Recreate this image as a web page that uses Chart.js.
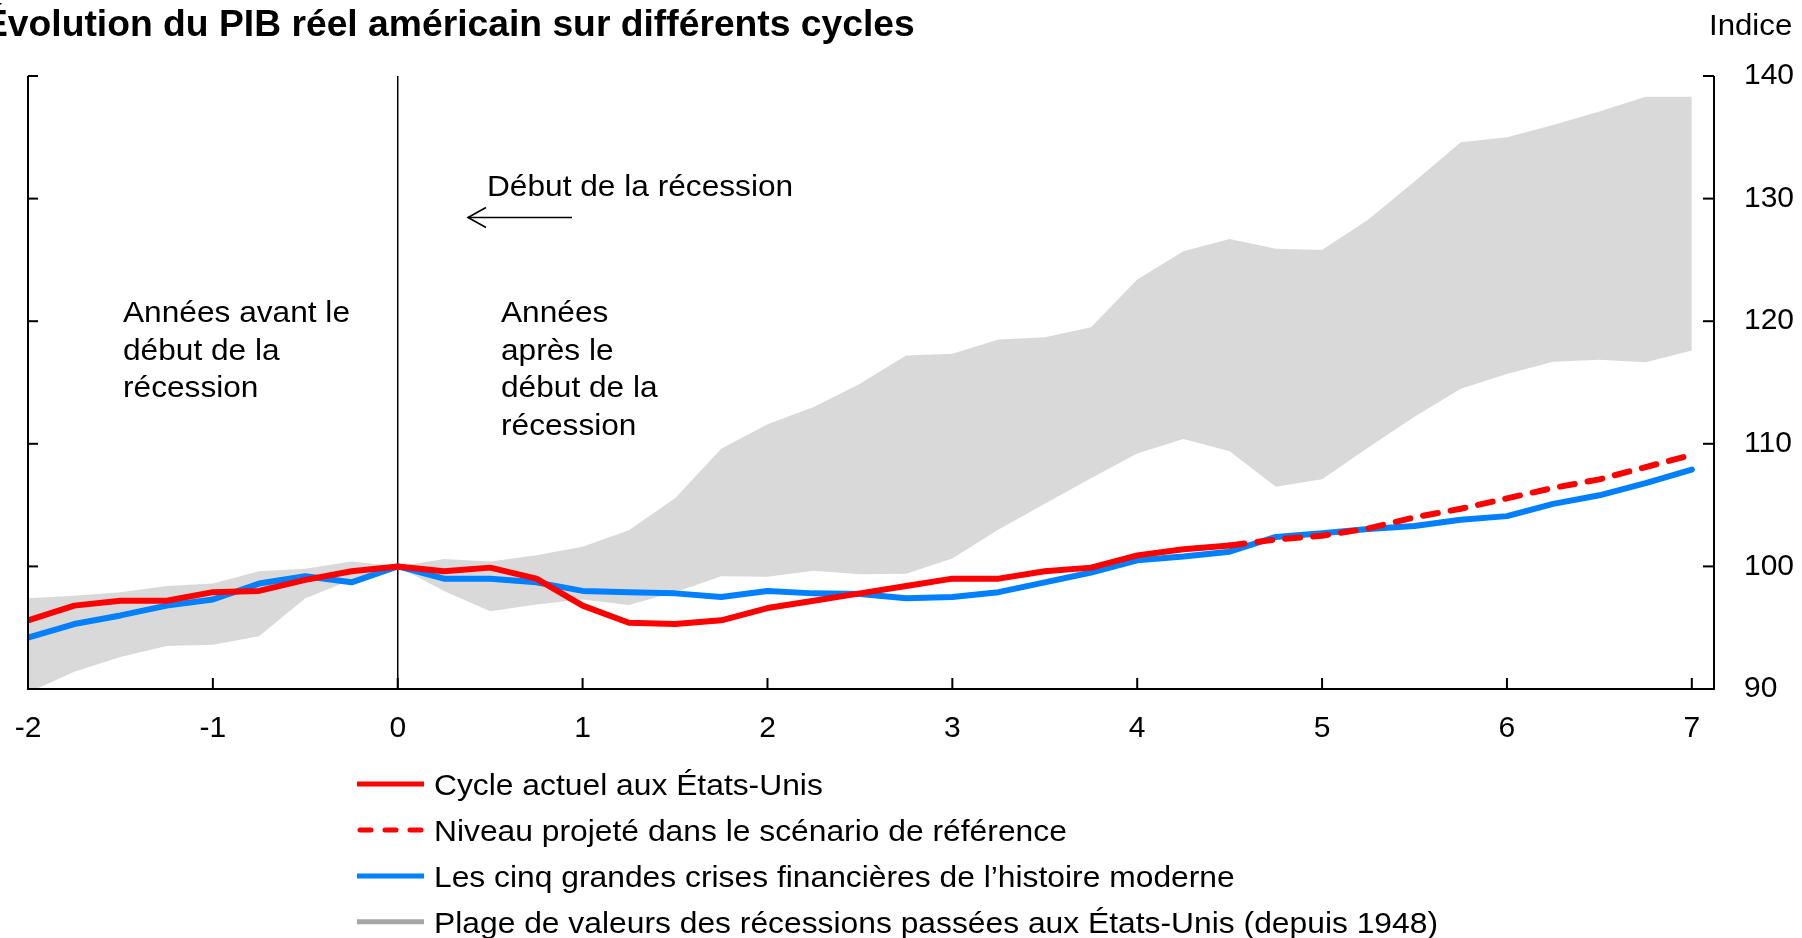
<!DOCTYPE html>
<html>
<head>
<meta charset="utf-8">
<title>Évolution du PIB réel américain sur différents cycles</title>
<script src="https://cdn.jsdelivr.net/npm/chart.js@4.4.1/dist/chart.umd.min.js"></script>
<style>
html, body { margin: 0; padding: 0; background: #fff; }
#wrap { width: 1802px; height: 938px; }
</style>
</head>
<body>
<div id="wrap"><canvas id="gdp" width="1802" height="938"></canvas></div>
<script>
// Années depuis le début de la récession (trimestres)
var quarters = [-2, -1.75, -1.5, -1.25, -1, -0.75, -0.5, -0.25, 0, 0.25, 0.5, 0.75,
	1, 1.25, 1.5, 1.75, 2, 2.25, 2.5, 2.75, 3, 3.25, 3.5, 3.75,
	4, 4.25, 4.5, 4.75, 5, 5.25, 5.5, 5.75, 6, 6.25, 6.5, 6.75, 7];
var xTicks = [-2, -1, 0, 1, 2, 3, 4, 5, 6, 7];
var yTicks = [90, 100, 110, 120, 130, 140];

// Cycle actuel aux États-Unis (jusqu'à 4,5 ans)
var currentCycle = [95.6, 96.8, 97.2, 97.2, 97.9, 98.0, 98.9, 99.6, 100, 99.6, 99.9, 99.0,
	96.8, 95.4, 95.3, 95.6, 96.6, 97.2, 97.8, 98.4, 99.0, 99.0, 99.6, 99.9,
	100.9, 101.4, 101.7];
// Niveau projeté (de 4,5 à 7 ans)
var projQuarters = [4.5, 4.75, 5, 5.25, 5.5, 5.75, 6, 6.25, 6.5, 6.75, 7];
var projected = [101.7, 102.2, 102.5, 103.1, 104.0, 104.7, 105.55, 106.4, 107.1, 108.1, 109.1];
// Les cinq grandes crises financières
var fiveCrises = [94.2, 95.3, 96.0, 96.8, 97.3, 98.6, 99.2, 98.7, 100, 99.0, 99.0, 98.7,
	98.0, 97.9, 97.8, 97.5, 98.0, 97.8, 97.75, 97.4, 97.5, 97.9, 98.7, 99.5,
	100.5, 100.8, 101.2, 102.4, 102.7, 103.05, 103.3, 103.8, 104.1, 105.1, 105.8, 106.8, 107.9];
// Plage des récessions passées (haut / bas)
var rangeHigh = [97.4, 97.6, 97.9, 98.4, 98.6, 99.6, 99.8, 100.4, 100, 100.6, 100.4, 100.9,
	101.6, 102.95, 105.55, 109.6, 111.6, 113.0, 114.9, 117.2, 117.35, 118.5, 118.7, 119.5,
	123.4, 125.7, 126.7, 125.9, 125.8, 128.3, 131.4, 134.6, 135.0, 136.0, 137.1, 138.3, 138.3];
var rangeLow = [89.7, 91.4, 92.6, 93.5, 93.6, 94.3, 97.4, 98.9, 100, 98.0, 96.35, 96.9,
	97.3, 96.85, 97.9, 99.2, 99.15, 99.65, 99.35, 99.4, 100.65, 103.0, 105.1, 107.2,
	109.2, 110.4, 109.4, 106.5, 107.1, 109.7, 112.2, 114.5, 115.7, 116.7, 116.85, 116.65, 117.6];

var legendLabels = [
	'Cycle actuel aux États-Unis',
	'Niveau projeté dans le scénario de référence',
	'Les cinq grandes crises financières de l\u2019histoire moderne',
	'Plage de valeurs des récessions passées aux États-Unis (depuis 1948)'
];

var RED = '#ff0000', BLUE = '#0080ff', BAND = '#d9d9d9', BAND_KEY = '#a6a6a6';
var FONT = '"Liberation Sans", Arial, Helvetica, sans-serif';

function toPoints(xs, ys) {
	return ys.map(function (v, i) { return { x: xs[i], y: v }; });
}

function drawText(ctx, str, x, y, size, bold, sx) {
	ctx.save();
	ctx.font = (bold ? 'bold ' : '') + size + 'px ' + FONT;
	ctx.fillStyle = '#000';
	ctx.textBaseline = 'alphabetic';
	ctx.textAlign = 'left';
	ctx.translate(x, y);
	ctx.scale(sx, 1);
	ctx.fillText(str, 0, 0);
	ctx.restore();
}

function line(ctx, x1, y1, x2, y2) {
	ctx.beginPath();
	ctx.moveTo(x1, y1);
	ctx.lineTo(x2, y2);
	ctx.stroke();
}

var decor = {
	id: 'decor',
	beforeDatasetsDraw: function (chart) {
		var ctx = chart.ctx, a = chart.chartArea;
		var x0 = chart.scales.x.getPixelForValue(0);
		ctx.save();
		ctx.strokeStyle = '#000';
		ctx.lineWidth = 1.5;
		line(ctx, x0, a.top, x0, a.bottom);
		ctx.restore();
	},
	afterDatasetsDraw: function (chart) {
		var ctx = chart.ctx, a = chart.chartArea;
		var xs = chart.scales.x, ys = chart.scales.y;
		ctx.save();
		ctx.strokeStyle = '#000';
		ctx.lineWidth = 2;
		line(ctx, a.left, a.bottom, a.right + 1, a.bottom);
		line(ctx, a.right, a.top, a.right, a.bottom + 1);
		line(ctx, a.left, a.top, a.left, a.bottom + 1);
		xTicks.forEach(function (v) {
			var px = xs.getPixelForValue(v);
			line(ctx, px, a.bottom, px, a.bottom - 11);
		});
		yTicks.forEach(function (v) {
			var py = ys.getPixelForValue(v);
			line(ctx, a.right - 11, py, a.right, py);
			line(ctx, a.left, py, a.left + 10, py);
		});
		ctx.restore();
	},
	afterDraw: function (chart) {
		var ctx = chart.ctx;
		var S = 1.06;
		drawText(ctx, 'Évolution du PIB réel américain sur différents cycles', -17, 36, 36, true, 1.035);
		drawText(ctx, 'Indice', 1709, 35, 30, false, 1.04);

		drawText(ctx, 'Début de la récession', 487, 196, 30, false, 1.055);
		ctx.save();
		ctx.strokeStyle = '#000';
		ctx.lineWidth = 1.6;
		line(ctx, 572, 217.5, 468, 217.5);
		ctx.beginPath();
		ctx.moveTo(486, 207.5);
		ctx.lineTo(468, 217.5);
		ctx.lineTo(486, 227.5);
		ctx.stroke();
		ctx.restore();

		['Années avant le', 'début de la', 'récession'].forEach(function (s, i) {
			drawText(ctx, s, 123, 321.7 + i * 37.8, 30, false, 1.055);
		});
		['Années', 'après le', 'début de la', 'récession'].forEach(function (s, i) {
			drawText(ctx, s, 501, 321.7 + i * 37.8, 30, false, 1.055);
		});

		// Légende
		var keys = [
			{ color: RED, dash: [] },
			{ color: RED, dash: [11, 14] },
			{ color: BLUE, dash: [] },
			{ color: BAND_KEY, dash: [] }
		];
		var rowY = [784, 830, 876, 921.7];
		keys.forEach(function (k, i) {
			ctx.save();
			ctx.strokeStyle = k.color;
			ctx.lineWidth = 5;
			ctx.lineCap = k.dash.length ? 'round' : 'butt';
			ctx.setLineDash(k.dash);
			if (k.dash.length) {
				line(ctx, 360, rowY[i], 424, rowY[i]);
			} else {
				line(ctx, 357, rowY[i], 424, rowY[i]);
			}
			ctx.restore();
			drawText(ctx, legendLabels[i], 434, rowY[i] + 10.8, 30, false, S);
		});
	}
};

var ctx = document.getElementById('gdp').getContext('2d');
new Chart(ctx, {
	type: 'line',
	data: {
		datasets: [{
			label: legendLabels[0],
			data: toPoints(quarters, currentCycle),
			borderColor: RED,
			borderWidth: 6,
			borderCapStyle: 'round',
			borderJoinStyle: 'round',
			fill: false
		}, {
			label: legendLabels[1],
			data: toPoints(projQuarters, projected),
			borderColor: RED,
			borderWidth: 6,
			borderDash: [15, 13],
			borderCapStyle: 'round',
			borderJoinStyle: 'round',
			fill: false
		}, {
			label: legendLabels[2],
			data: toPoints(quarters, fiveCrises),
			borderColor: BLUE,
			borderWidth: 6,
			borderCapStyle: 'round',
			borderJoinStyle: 'round',
			fill: false
		}, {
			label: legendLabels[3],
			data: toPoints(quarters, rangeHigh),
			borderWidth: 0,
			borderColor: BAND,
			backgroundColor: BAND,
			fill: '+1'
		}, {
			label: 'bas',
			data: toPoints(quarters, rangeLow),
			borderWidth: 0,
			borderColor: BAND,
			backgroundColor: BAND,
			fill: false
		}]
	},
	options: {
		responsive: false,
		animation: false,
		devicePixelRatio: 1,
		layout: { padding: { left: 28, top: 76, right: 0, bottom: 189 } },
		elements: { point: { radius: 0, hoverRadius: 0 }, line: { tension: 0 } },
		plugins: {
			legend: { display: false },
			tooltip: { enabled: false },
			title: { display: false }
		},
		events: [],
		scales: {
			x: {
				type: 'linear',
				bounds: 'data',
				min: -2,
				max: 7.12,
				afterBuildTicks: function (s) { s.ticks = xTicks.map(function (v) { return { value: v }; }); },
				afterFit: function (s) { s.height = 60; s.paddingLeft = 0; s.paddingRight = 0; },
				grid: { display: false, drawTicks: false },
				border: { display: false },
				ticks: { color: '#000', font: { family: FONT, size: 30 }, padding: 22, maxRotation: 0, autoSkip: false }
			},
			y: {
				position: 'right',
				min: 90,
				max: 140,
				afterBuildTicks: function (s) { s.ticks = yTicks.map(function (v) { return { value: v }; }); },
				afterFit: function (s) { s.width = 88; },
				grid: { display: false, drawTicks: false },
				border: { display: false },
				ticks: { color: '#000', font: { family: FONT, size: 30 }, padding: 30 }
			}
		}
	},
	plugins: [decor]
});
</script>
</body>
</html>
